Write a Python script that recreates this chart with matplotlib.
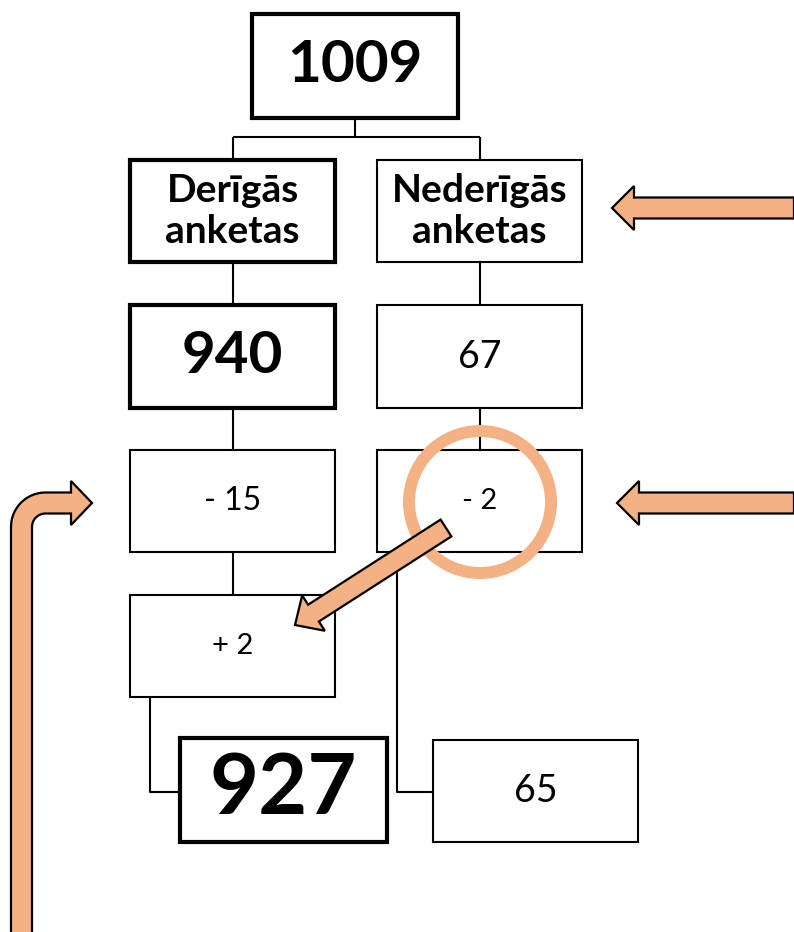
"""Flow diagram of questionnaire counts (valid / invalid forms)."""
import numpy as np
import matplotlib
matplotlib.use("Agg")
import matplotlib.pyplot as plt
from matplotlib.patches import Rectangle, Circle, FancyArrow, Polygon

# ---------- Data ----------
TOTAL = 1009
VALID = 940
INVALID = 67
VALID_REMOVED = -15
INVALID_REMOVED = -2
MOVED_TO_VALID = 2
VALID_FINAL = VALID + VALID_REMOVED + MOVED_TO_VALID      # 927
INVALID_FINAL = INVALID + INVALID_REMOVED                 # 65
HEADERS = ["Derīgās\nanketas", "Nederīgās\nanketas"]

# ---------- Style ----------
ORANGE = "#F4B183"
FONT = "Lato"
THICK = 3.0
THIN = 1.5

fig = plt.figure(figsize=(7.94, 9.32), dpi=100)
ax = fig.add_axes([0, 0, 1, 1])
ax.set_xlim(0, 794)
ax.set_ylim(932, 0)
ax.axis("off")


def box(x0, y0, x1, y1, text, lw, fs, bold, ls=1.0):
    ax.add_patch(Rectangle((x0, y0), x1 - x0, y1 - y0, facecolor="white",
                           edgecolor="black", lw=lw, zorder=2))
    ax.text((x0 + x1) / 2, (y0 + y1) / 2, text, ha="center", va="center",
            fontsize=fs, family=FONT, fontweight="bold" if bold else "normal",
            linespacing=ls, zorder=3)


def line(xs, ys):
    ax.plot(xs, ys, color="black", lw=THIN, zorder=1, solid_capstyle="butt")


def signed(v):
    return f"+ {v}" if v > 0 else f"- {abs(v)}"


# connectors
line([355, 355], [118, 137])
line([233, 480], [137, 137])
line([233, 233], [137, 600])
line([480, 480], [137, 450])
line([150, 150, 180], [697, 792, 792])
line([397, 397, 433], [552, 792, 792])

# boxes
box(252, 14, 458, 118, str(TOTAL), THICK, 42, True)
box(130, 160, 335, 262, HEADERS[0], THICK, 28, True, 1.22)
box(377, 160, 582, 262, HEADERS[1], THIN, 28, True, 1.22)
box(130, 305, 335, 408, str(VALID), THICK, 42, True)
box(377, 305, 582, 408, str(INVALID), THIN, 27, False)
box(130, 450, 335, 552, signed(VALID_REMOVED), THIN, 23, False)
box(377, 450, 582, 552, signed(INVALID_REMOVED), THIN, 21, False)
box(130, 595, 335, 697, signed(MOVED_TO_VALID), THIN, 21, False)
box(180, 738, 387, 842, str(VALID_FINAL), THICK, 61, True)
box(433, 740, 638, 842, str(INVALID_FINAL), THIN, 27, False)

# highlight circle
ax.add_patch(Circle((480, 502), 71, facecolor="none", edgecolor=ORANGE,
                    lw=8.6, zorder=4))

# straight arrows
arrow_kw = dict(length_includes_head=True, facecolor=ORANGE,
                edgecolor="black", lw=1.6, zorder=5)
ax.add_patch(FancyArrow(794, 208, -182, 0, width=21, head_width=44,
                        head_length=22, **arrow_kw))
ax.add_patch(FancyArrow(794, 503, -177, 0, width=21, head_width=44,
                        head_length=22, **arrow_kw))
ax.add_patch(FancyArrow(446, 528, -151, 97, width=20, head_width=42,
                        head_length=22, **arrow_kw))

# bent arrow from the bottom left
w = 10.5
xc, yc = 21.5, 503
r = 24
cx, cy = xc + r, yc + r
t = np.linspace(np.pi, 1.5 * np.pi, 30)
outer = np.column_stack([cx + (r + w) * np.cos(t), cy + (r + w) * np.sin(t)])
inner = np.column_stack([cx + (r - w) * np.cos(t), cy + (r - w) * np.sin(t)])[::-1]
head_base, tip, hw = 71, 92, 22
pts = np.vstack([
    [[xc - w, 940]],
    outer,
    [[head_base, yc - w], [head_base, yc - hw], [tip, yc],
     [head_base, yc + hw], [head_base, yc + w]],
    inner,
    [[xc + w, 940]],
])
ax.add_patch(Polygon(pts, closed=True, facecolor=ORANGE, edgecolor="black",
                     lw=1.6, joinstyle="miter", zorder=5))

fig.savefig("out.png", dpi=100)
